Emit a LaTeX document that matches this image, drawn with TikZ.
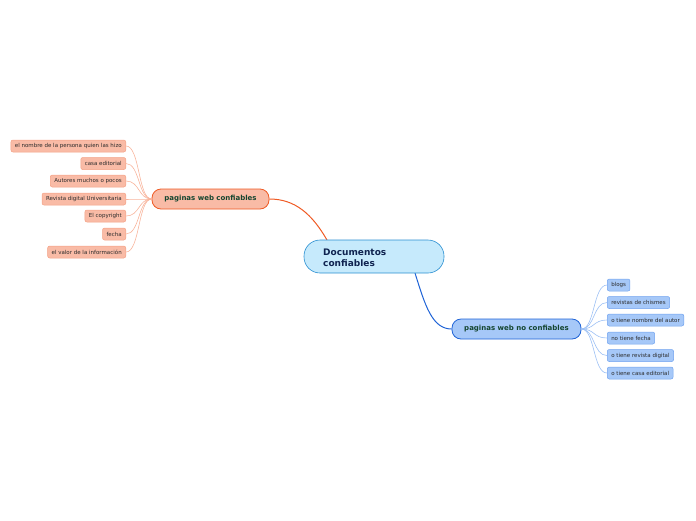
\documentclass[tikz,border=0pt]{standalone}
\usepackage{fontspec}
\setmainfont{DejaVu Sans}
\definecolor{cfill}{HTML}{C6EAFC}
\definecolor{cdraw}{HTML}{2A8FD1}
\definecolor{ctext}{HTML}{0F2350}
\definecolor{lfill}{HTML}{F9BBA6}
\definecolor{ldraw}{HTML}{EF5A24}
\definecolor{lleafdraw}{HTML}{F4A184}
\definecolor{lline}{HTML}{F8B49C}
\definecolor{rfill}{HTML}{A6C8F8}
\definecolor{rdraw}{HTML}{1F63D6}
\definecolor{rleafdraw}{HTML}{6FA2EF}
\definecolor{rline}{HTML}{9CC0F4}
\definecolor{mtext}{HTML}{14452F}
\definecolor{leaftext}{HTML}{2B2B2B}
\tikzset{
  central/.style={draw=cdraw, fill=cfill, line width=0.6pt, rounded corners=16pt,
    minimum width=140pt, minimum height=33pt, text width=102pt, align=left,
    inner sep=0pt, font=\fontsize{9}{11}\selectfont\bfseries, text=ctext},
  mainl/.style={draw=ldraw, fill=lfill, line width=0.8pt, rounded corners=9pt,
    minimum width=117pt, minimum height=20pt, inner sep=0pt,
    font=\fontsize{7}{8}\selectfont\bfseries, text=mtext},
  mainr/.style={draw=rdraw, fill=rfill, line width=0.8pt, rounded corners=9pt,
    minimum width=129pt, minimum height=20pt, inner sep=0pt,
    font=\fontsize{7}{8}\selectfont\bfseries, text=mtext},
  leafl/.style={draw=lleafdraw, fill=lfill, line width=0.5pt, rounded corners=2pt,
    minimum height=12pt, inner xsep=4pt, inner ysep=0pt, anchor=east,
    font=\fontsize{5.5}{6.5}\selectfont, text=leaftext},
  leafr/.style={draw=rleafdraw, fill=rfill, line width=0.5pt, rounded corners=2pt,
    minimum height=12pt, inner xsep=4pt, inner ysep=0pt, anchor=west,
    font=\fontsize{5.5}{6.5}\selectfont, text=leaftext},
  linkl/.style={draw=lline, line width=0.6pt},
  linkr/.style={draw=rline, line width=0.6pt},
}
\begin{document}
\begin{tikzpicture}[x=1pt, y=-1pt]
\useasboundingbox (0,0) rectangle (696,520);
% main connectors
\coordinate (ct) at (327,240);
\coordinate (cb) at (415,273);
\node[mainl] (L) at (210.5,199) {paginas web confiables};
\node[mainr] (R) at (516.5,329) {paginas web no confiables};
\draw[draw=ldraw, line width=1pt] (ct) .. controls (312,214) and (295,199) .. (L.east);
\draw[draw=rdraw, line width=1pt] (cb) .. controls (425,305) and (432,329) .. (R.west);
\node[central] (C) at (374,256.5) {};
\node[font=\fontsize{9}{11}\selectfont\bfseries, text=ctext, align=left, anchor=west, inner sep=0pt] (Ct) at (323,258) {Documentos\\confiables};
% left leaves
\node[leafl] (l1) at (126,146) {el nombre de la persona quien las hizo};
\node[leafl] (l2) at (126,163.5) {casa editorial};
\node[leafl] (l3) at (126,181) {Autores muchos o pocos};
\node[leafl] (l4) at (126,199) {Revista digital Universitaria};
\node[leafl] (l5) at (126,216) {El copyright};
\node[leafl] (l6) at (126,234) {fecha};
\node[leafl] (l7) at (126,252) {el valor de la información};
\foreach \n in {l1,l2,l3,l4,l5,l6,l7}{
  \draw[linkl] (L.west) .. controls (138,199) and (140,0|-\n.east) .. (\n.east);
}
% right leaves
\node[leafr] (r1) at (607,285) {blogs};
\node[leafr] (r2) at (607,302.5) {revistas de chismes};
\node[leafr] (r3) at (607,320) {o tiene nombre del autor};
\node[leafr] (r4) at (607,338) {no tiene fecha};
\node[leafr] (r5) at (607,355.5) {o tiene revista digital};
\node[leafr] (r6) at (607,373) {o tiene casa editorial};
\foreach \n in {r1,r2,r3,r4,r5,r6}{
  \draw[linkr] (R.east) .. controls (595,329) and (593,0|-\n.west) .. (\n.west);
}
\end{tikzpicture}
\end{document}
